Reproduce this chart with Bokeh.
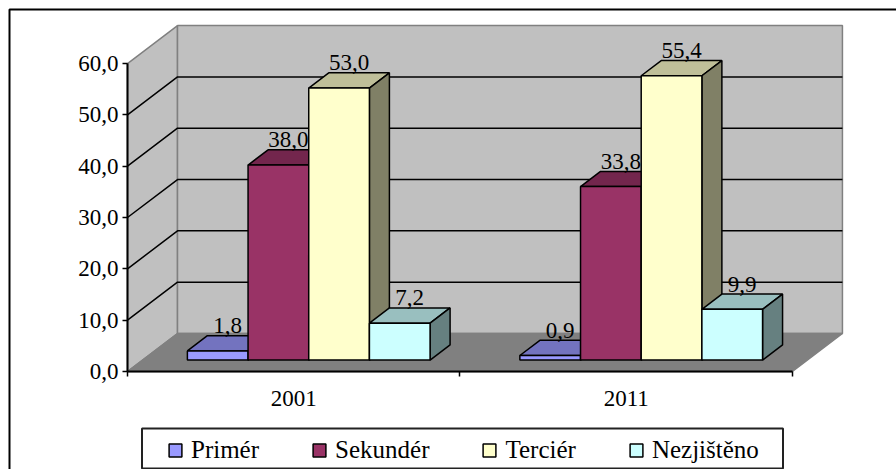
from bokeh.plotting import figure
from bokeh.models import FixedTicker, Legend, LegendItem, BoxAnnotation, Range1d
from bokeh.core.properties import value
from bokeh.embed import file_html
from bokeh.resources import INLINE

years = ["2001", "2011"]
series = ["Primér", "Sekundér", "Terciér", "Nezjištěno"]
primer = [1.8, 0.9]
sekunder = [38.0, 33.8]
tercier = [53.0, 55.4]
nezjisteno = [7.2, 9.9]
y_ticks = [0, 10, 20, 30, 40, 50, 60]

front_colors = ["#9999FF", "#993366", "#FFFFCC", "#CCFFFF"]
top_colors = ["#7373BF", "#73264D", "#BFBF99", "#99BFBF"]
side_colors = ["#5C5C99", "#5C1F3D", "#808066", "#668080"]
FONT = "Liberation Serif"

# projection of the depth axis, in data units of the two scales
DEPTH_X = 0.1504
DEPTH_Y = 7.4
BAR_W = 0.1825
D0, D1 = 0.3, 0.7
Y_MAX = 60
X_MAX = 2

p = figure(width=896, height=469, output_backend="svg", toolbar_location=None,
           x_range=Range1d(-0.382, 2.313), y_range=Range1d(-19.09, 72.28),
           min_border=0, min_border_left=0, min_border_right=0, min_border_top=0, min_border_bottom=0,
           background_fill_color="white", border_fill_color="white")
p.outline_line_color = None
p.grid.visible = False

# walls and floor
bx, by = DEPTH_X, DEPTH_Y
p.patch([0, bx, bx, 0], [0, by, Y_MAX + by, Y_MAX], fill_color="#C0C0C0", line_color="#808080", line_width=1.5)
p.patch([bx, X_MAX + bx, X_MAX + bx, bx], [by, by, Y_MAX + by, Y_MAX + by], fill_color="#C0C0C0", line_color="#808080", line_width=1.5)
p.patch([0, X_MAX, X_MAX + bx, bx], [0, 0, by, by], fill_color="#808080", line_color="#808080", line_width=1.5)
grid_vals = [t for t in y_ticks if 0 < t < Y_MAX]
p.multi_line([[0, bx, X_MAX + bx] for _ in grid_vals],
             [[t, t + by, t + by] for t in grid_vals], line_color="black", line_width=1.5)

all_vals = [primer, sekunder, tercier, nezjisteno]
legend_items = []
for s, vals in enumerate(all_vals):
    xs0 = [i + 0.5 - 2 * BAR_W + s * BAR_W + D0 * DEPTH_X for i in range(len(years))]
    xs1 = [x + BAR_W for x in xs0]
    base = D0 * DEPTH_Y
    tops = [v + base for v in vals]
    dx = (D1 - D0) * DEPTH_X
    dy = (D1 - D0) * DEPTH_Y
    p.patches([[a, b, b + dx, a + dx] for a, b in zip(xs0, xs1)],
              [[t, t, t + dy, t + dy] for t in tops],
              fill_color=top_colors[s], line_color="black", line_width=1.5)
    p.patches([[b, b + dx, b + dx, b] for b in xs1],
              [[base, base + dy, t + dy, t] for t in tops],
              fill_color=side_colors[s], line_color="black", line_width=1.5)
    r = p.quad(left=xs0, right=xs1, bottom=[base] * len(vals), top=tops,
               fill_color=front_colors[s], line_color="black", line_width=1.5)
    legend_items.append(LegendItem(label=series[s], renderers=[r]))
    p.text(x=[(a + b) / 2 + 0.03 for a, b in zip(xs0, xs1)],
           y=[t + dy + 0.5 for t in tops],
           text=[f"{v:.1f}".replace(".", ",") for v in vals],
           text_font=value(FONT), text_font_size="23px", text_color="black",
           text_align="center", text_baseline="bottom")

# axes
p.xaxis.fixed_location = 0
p.yaxis.fixed_location = 0
p.yaxis.ticker = FixedTicker(ticks=y_ticks)
p.yaxis.major_label_overrides = {t: f"{t:.1f}".replace(".", ",") for t in y_ticks}
p.yaxis.bounds = (0, Y_MAX)
p.yaxis.major_tick_in = 0
p.yaxis.major_tick_out = 5
p.yaxis.minor_tick_line_color = None
p.yaxis.major_label_standoff = 4
p.xaxis.ticker = FixedTicker(ticks=[i + 0.5 for i in range(len(years))], minor_ticks=[0, 1, 2])
p.xaxis.major_label_overrides = {i + 0.5: y for i, y in enumerate(years)}
p.xaxis.bounds = (0, X_MAX)
p.xaxis.major_tick_line_color = None
p.xaxis.major_tick_in = 0
p.xaxis.major_tick_out = 0
p.xaxis.minor_tick_in = 0
p.xaxis.minor_tick_out = 5
p.xaxis.major_label_standoff = 14
for ax in (p.xaxis[0], p.yaxis[0]):
    ax.axis_line_color = "black"
    ax.axis_line_width = 2
    ax.major_label_text_font = FONT
    ax.major_label_text_font_size = "23px"
    ax.major_label_text_color = "black"
p.xaxis.minor_tick_line_color = "black"
p.xaxis.minor_tick_line_width = 1.5
p.yaxis.major_tick_line_color = "black"
p.yaxis.major_tick_line_width = 1.5

# chart frame and legend box (screen y counts up from the canvas bottom here)
p.add_layout(BoxAnnotation(left=9, right=910, top=460, bottom=-20, left_units="screen", right_units="screen",
                           top_units="screen", bottom_units="screen", fill_color=None,
                           line_color="black", line_alpha=1, line_width=2, level="overlay"))
p.add_layout(BoxAnnotation(left=141.5, right=782.5, top=41, bottom=1, left_units="screen", right_units="screen",
                           top_units="screen", bottom_units="screen", fill_color=None,
                           line_color="#222222", line_alpha=1, line_width=2, level="overlay"))
legend = Legend(items=legend_items, orientation="horizontal", location=(167, 5),
                spacing=52, label_standoff=8, glyph_width=16, glyph_height=16, padding=2, margin=0,
                border_line_color=None, background_fill_color=None,
                label_text_font=FONT, label_text_font_size="25px", label_text_color="black")
p.add_layout(legend)

open("out.html", "w").write(file_html(p, INLINE))
